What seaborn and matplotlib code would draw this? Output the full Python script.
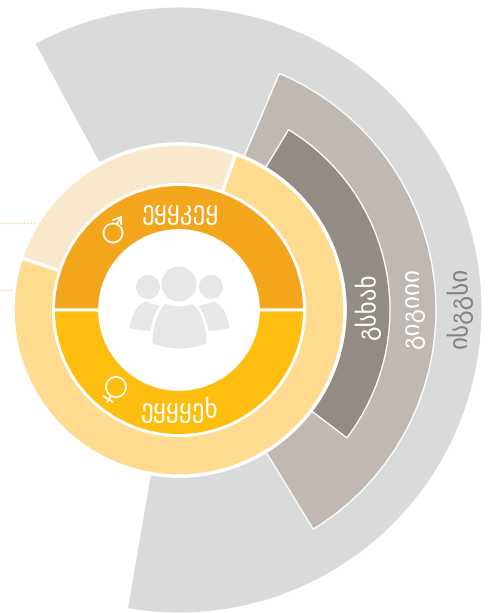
import matplotlib
matplotlib.use('Agg')
import matplotlib.pyplot as plt
import seaborn as sns
from matplotlib.patches import Circle, PathPatch
from matplotlib.path import Path

W, H = 489, 613
CX, CY = 179, 310

# ring spans in degrees: (size of drawn arc, size of gap), with start angle
outer_values = [218, 142]
middle_values = [125.5, 234.5]
inner_values = [96, 264]
cream_values = [91.7, 268.3]
gender_values = [50, 50]

outer_start = -99.7
middle_start = -58.5
inner_start = -37.3
cream_start = 70

ring_labels = ['ისგგსი', 'გიგიიი', 'გსხახ']
gender_labels = ['ეყყკეყ', 'ეყყყეხ']

sns.set_theme(style='white')
plt.rcParams['font.family'] = ['DejaVu Sans']
grays = sns.color_palette(['#d9dbdb', '#bfb8b3', '#928c85'])
ambers = sns.color_palette(['#fedb8f', '#f9e9cc', '#f3a51b', '#febe10'])


def yy(y):
    return H - y


fig, ax = plt.subplots(figsize=(W / 100, H / 100), dpi=100)
fig.subplots_adjust(0, 0, 1, 1)
center = (CX, yy(CY))


def ring(values, radius, width, colors, start, edge='white', lw=1.0, hide_gap=True):
    wedges, _ = ax.pie(values, radius=radius, center=center, startangle=start,
                       colors=colors, frame=True,
                       wedgeprops=dict(width=width, edgecolor=edge, linewidth=lw))
    if hide_gap:
        wedges[1].set_visible(False)


ring(outer_values, 302.5, 302.5, [grays[0], 'white'], outer_start, edge='none', lw=0)
ring(middle_values, 257, 257, [grays[1], 'white'], middle_start)
ring(inner_values, 211, 211, [grays[2], 'white'], inner_start)

# amber ring, full circle then the cream part on top
ax.add_patch(Circle(center, 167.5, fc='white', ec='none', zorder=2))
wedges, _ = ax.pie([cream_values[1], cream_values[0]], radius=166, center=center,
                   startangle=cream_start + cream_values[0], colors=[ambers[0], ambers[1]],
                   frame=True, wedgeprops=dict(width=41, edgecolor='white', linewidth=2.5))
for w in wedges:
    w.set_zorder(3)

ax.add_patch(Circle(center, 127, fc='white', ec='none', zorder=3.5))
wedges, _ = ax.pie(gender_values, radius=125.5, center=center, startangle=0,
                   colors=[ambers[2], ambers[3]], frame=True,
                   wedgeprops=dict(width=46, edgecolor='white', linewidth=2))
for w in wedges:
    w.set_zorder(4)
ax.add_patch(Circle(center, 79.5, fc='white', ec='none', zorder=4.5))

# dotted leader lines
ax.plot([0, 37], [yy(223), yy(223)], color='#fbd58a', lw=1, ls=(0, (1, 1.4)), zorder=1)
ax.plot([0, 15], [yy(290), yy(290)], color='#fbd58a', lw=1, ls=(0, (1, 1.4)), zorder=1)

# ring labels
for x, y, label, col in zip([460, 413, 368], [307, 307, 306], ring_labels,
                            ['#808285', 'white', 'white']):
    ax.text(x, yy(y), label, rotation=90, ha='center', va='center', color=col,
            fontsize=18, zorder=6)

for y, label in zip([213, 410], gender_labels):
    ax.text(180, yy(y), label, ha='center', va='center', color='white',
            fontsize=18, zorder=6)


# male and female signs
def sign_line(xs, ys):
    ax.plot(xs, [yy(v) for v in ys], color='white', lw=1.3, zorder=6, solid_capstyle='round')


ax.add_patch(Circle((113, yy(233)), 9.5, fc='none', ec='white', lw=1.3, zorder=6))
sign_line([117, 121], [224, 217])
sign_line([113, 121, 121], [220, 217, 224])
ax.add_patch(Circle((116, yy(387)), 10, fc='none', ec='white', lw=1.3, zorder=6))
sign_line([111, 107], [396, 402])
sign_line([103, 113], [396, 402])


# people icon
def body(points, z):
    codes = [Path.MOVETO] + [Path.CURVE4] * (len(points) - 1)
    verts = [(x, yy(y)) for x, y in points]
    ax.add_patch(PathPatch(Path(verts, codes), fc='#e6e7e8', ec='white', lw=2, zorder=z))


for hx, hy, r in [(148, 287, 12), (211, 287, 12), (179, 284, 17.5)]:
    ax.add_patch(Circle((hx, yy(hy)), r, fc='#e6e7e8', ec='none', zorder=5))
body([(128, 329), (130, 315), (135, 303), (146, 300), (150, 303), (155, 302), (161, 305),
      (166, 312), (160, 332), (150, 332), (140, 332), (135, 331), (128, 329)], 5.1)
body([(231, 329), (229, 315), (224, 303), (213, 300), (209, 303), (204, 302), (198, 305),
      (193, 312), (199, 332), (209, 332), (219, 332), (224, 331), (231, 329)], 5.1)
body([(151, 344), (151, 320), (160, 305), (166, 302), (172, 306), (186, 306), (192, 302),
      (198, 305), (208, 320), (208, 344), (190, 352), (168, 352), (151, 344)], 5.2)

ax.set_xlim(0, W)
ax.set_ylim(0, H)
ax.set_aspect('equal')
ax.axis('off')
fig.savefig('out.png', dpi=100, facecolor='white')
